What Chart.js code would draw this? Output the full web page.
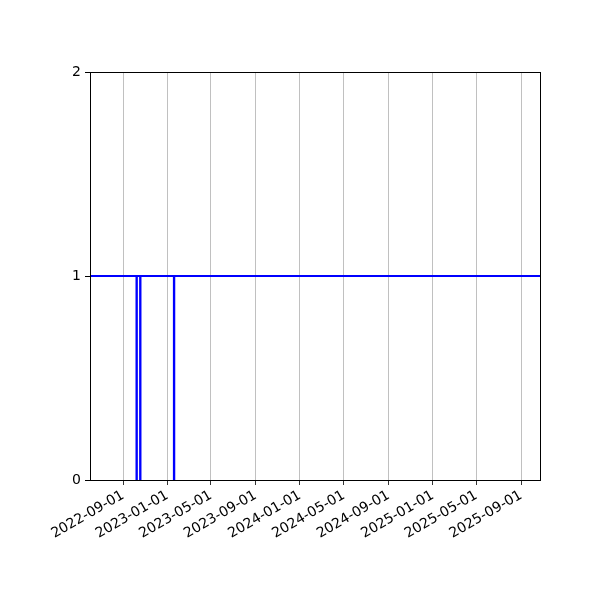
<!DOCTYPE html>
<html lang="en">
<head>
    <meta charset="UTF-8">
    <title>Chart</title>
    <style>
        body { margin: 0; background: #fff; }
    </style>
</head>
<body>
    <canvas id="myChart" width="600" height="600"></canvas>
    <script src="https://cdn.jsdelivr.net/npm/chart.js"></script>
    <script>
        // dates where the value changes, and the value from that date on
        const dates = ['2022-06-02', '2022-10-08', '2022-10-09', '2022-10-18', '2022-10-19',
            '2023-01-19', '2023-01-20', '2025-10-23'];
        const values = [1, 0, 1, 0, 1, 0, 1, 1];

        const tickLabels = ['2022-09-01', '2023-01-01', '2023-05-01', '2023-09-01', '2024-01-01',
            '2024-05-01', '2024-09-01', '2025-01-01', '2025-05-01', '2025-09-01'];
        const yTicks = [0, 1, 2];

        const toTime = s => Date.parse(s + 'T00:00:00Z');
        const tickTimes = tickLabels.map(toTime);

        // black box round the plot area
        const frame = {
            id: 'frame',
            afterDraw(chart) {
                const a = chart.chartArea;
                const c = chart.ctx;
                c.save();
                c.strokeStyle = '#000';
                c.lineWidth = 1;
                c.strokeRect(Math.round(a.left) + 0.5, Math.round(a.top) + 0.5,
                    Math.round(a.right - a.left), Math.round(a.bottom - a.top));
                c.restore();
            }
        };

        const ctx = document.getElementById('myChart');

        new Chart(ctx, {
            type: 'line',
            data: {
                datasets: [{
                    data: dates.map((d, i) => ({ x: toTime(d), y: values[i] })),
                    borderColor: '#0000ff',
                    borderWidth: 2,
                    pointRadius: 0,
                    stepped: true,
                    fill: false
                }]
            },
            options: {
                responsive: false,
                animation: false,
                devicePixelRatio: 1,
                layout: { padding: { top: 72, right: 60, left: 0, bottom: 0 } },
                plugins: {
                    legend: { display: false },
                    tooltip: { enabled: false }
                },
                scales: {
                    x: {
                        type: 'linear',
                        min: toTime(dates[0]),
                        max: toTime(dates[dates.length - 1]),
                        afterBuildTicks: scale => {
                            scale.ticks = tickTimes.map(v => ({ value: v }));
                        },
                        afterFit: scale => { scale.height = 120; },
                        border: { display: false },
                        grid: {
                            color: '#b0b0b0',
                            lineWidth: 0.8,
                            tickColor: '#000',
                            tickLength: 5
                        },
                        ticks: {
                            autoSkip: false,
                            maxRotation: 30,
                            minRotation: 30,
                            color: '#000',
                            padding: 2,
                            font: { family: 'DejaVu Sans', size: 14 },
                            callback: v => tickLabels[tickTimes.indexOf(v)] || ''
                        }
                    },
                    y: {
                        min: 0,
                        max: 2,
                        afterBuildTicks: scale => {
                            scale.ticks = yTicks.map(v => ({ value: v }));
                        },
                        afterFit: scale => { scale.width = 90; },
                        border: { display: false },
                        grid: {
                            drawOnChartArea: false,
                            tickColor: '#000',
                            tickLength: 5
                        },
                        ticks: {
                            color: '#000',
                            padding: 4,
                            font: { family: 'DejaVu Sans', size: 14 }
                        }
                    }
                }
            },
            plugins: [frame]
        });
    </script>
</body>
</html>
